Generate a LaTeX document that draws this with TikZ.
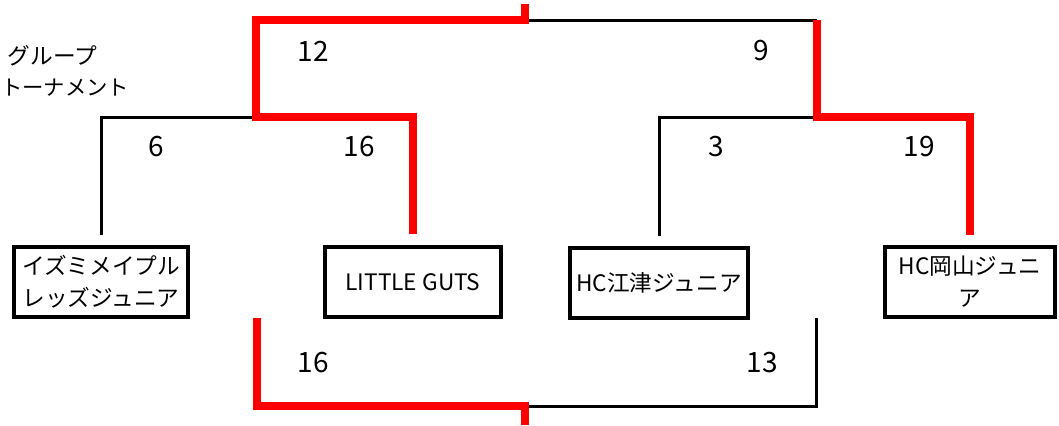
\documentclass[tikz,border=0pt]{standalone}
\usepackage{fontspec}
\setmainfont{Noto Sans CJK JP}
\begin{document}
\begin{tikzpicture}[x=0.75pt,y=-0.75pt,
	team/.style={draw,line width=3pt,minimum height=53pt,align=center,inner sep=2pt,font=\fontsize{17}{24}\selectfont},
	score/.style={font=\fontsize{21}{25}\selectfont},
	lose/.style={line width=2.25pt,line join=miter},
	win/.style={red,line width=6pt,line join=miter}]
		\useasboundingbox (0,0) rectangle (1059,425);
		\node[anchor=west,font=\fontsize{17}{20}\selectfont] (grp) at (3,56) {グループ};
		\node[anchor=east,font=\fontsize{16}{20}\selectfont] (prelim) at (134,88) {選トーナメント};
		\node[team,minimum width=131pt] (izumi) at (101,282) {イズミメイプル\\レッズジュニア};
		\node[team,minimum width=132pt] (guts) at (413,282) {LITTLE GUTS};
		\node[team,minimum width=133pt] (goutsu) at (659,283) {HC江津ジュニア};
		\node[team,minimum width=128pt] (okayama) at (970,282) {HC岡山ジュニ\\ア};
		\coordinate (semiL) at (256,117);
		\coordinate (semiR) at (817,117);
		\coordinate (finL) at (256,20);
		\coordinate (finR) at (817,20);
		\coordinate (champ) at (525,4);
		\coordinate (thirdL) at (257,318);
		\coordinate (thirdR) at (816,318);
		\coordinate (thirdM) at (525,406);
		\coordinate (third) at (525,425);
		\draw[lose] ([yshift=7pt]izumi.north) |- (semiL);
		\draw[lose] ([yshift=7pt]goutsu.north) |- (semiR);
		\draw[lose] (finR) -- (finR -| champ);
		\draw[lose] (thirdR) |- (thirdM);
		\draw[win] ([yshift=8pt]guts.north) |- (semiL) -- (finL) -| (champ);
		\draw[win] ([yshift=7.5pt]okayama.north) |- (semiR) -- (finR);
		\draw[win] (thirdL) |- (thirdM) -- (third);
		\node[score] (s12) at (313,51) {12};
		\node[score] (s9) at (761,51) {9};
		\node[score] (s6) at (156,147) {6};
		\node[score] (s16) at (359,147) {16};
		\node[score] (s3) at (716,147) {3};
		\node[score] (s19) at (919,147) {19};
		\node[score] (t16) at (313,363) {16};
		\node[score] (t13) at (762,363) {13};
\end{tikzpicture}
\end{document}
